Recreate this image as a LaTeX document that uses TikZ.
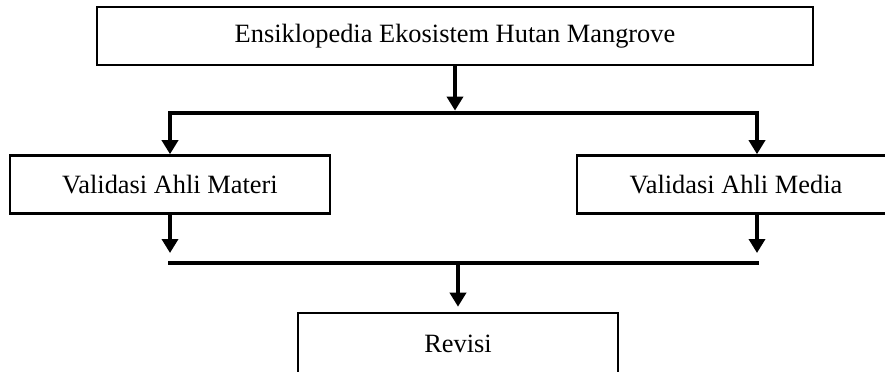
\documentclass[tikz,border=0pt]{standalone}
\usepackage{fontspec}
\setmainfont{Liberation Serif}
\usetikzlibrary{arrows.meta}

\begin{document}
\begin{tikzpicture}[x=0.5pt,y=-0.5pt,
    kotak/.style={rectangle, draw, line width=1.3pt, minimum height=29pt, inner sep=0pt, font=\fontsize{13.2}{16}\selectfont},
    panah/.style={-{Triangle[length=7pt,width=8pt]}, line width=2pt},
    batang/.style={line width=2.4pt, line cap=rect}]

    \useasboundingbox (0,0) rectangle (885,371);
    \clip (0,0) rectangle (885,371);

    \node[kotak, minimum width=358pt] (ensiklopedia) at (455,36) {Ensiklopedia Ekosistem Hutan Mangrove};

    \node[kotak, minimum width=160pt] (materi) at (170,184.5) {Validasi Ahli Materi};
    \node[kotak, minimum width=159pt] (media) at (736,184.5) {Validasi Ahli Media};

    \node[kotak, minimum width=160pt, minimum height=30.5pt] (revisi) at (458,343.5) {Revisi};

    \coordinate (atasKiri) at (170,113);
    \coordinate (atasKanan) at (757,113);
    \coordinate (bawahKiri) at (170,263);
    \coordinate (bawahKanan) at (757,263);

    \draw[batang] (atasKiri) -- (atasKanan);
    \draw[batang] (bawahKiri) -- (bawahKanan);

    \draw[panah, shorten >=1.2pt] (ensiklopedia.south) -- (ensiklopedia.south |- atasKiri);
    \draw[panah] (atasKiri) -- (materi.north);
    \draw[panah] (atasKanan) -- (atasKanan |- media.north);

    \draw[panah, shorten >=5pt] (materi.south) -- (bawahKiri);
    \draw[panah, shorten >=5pt] (atasKanan |- media.south) -- (bawahKanan);
    \draw[panah, shorten >=2.5pt] (revisi.north |- bawahKiri) -- (revisi.north);
\end{tikzpicture}
\end{document}
